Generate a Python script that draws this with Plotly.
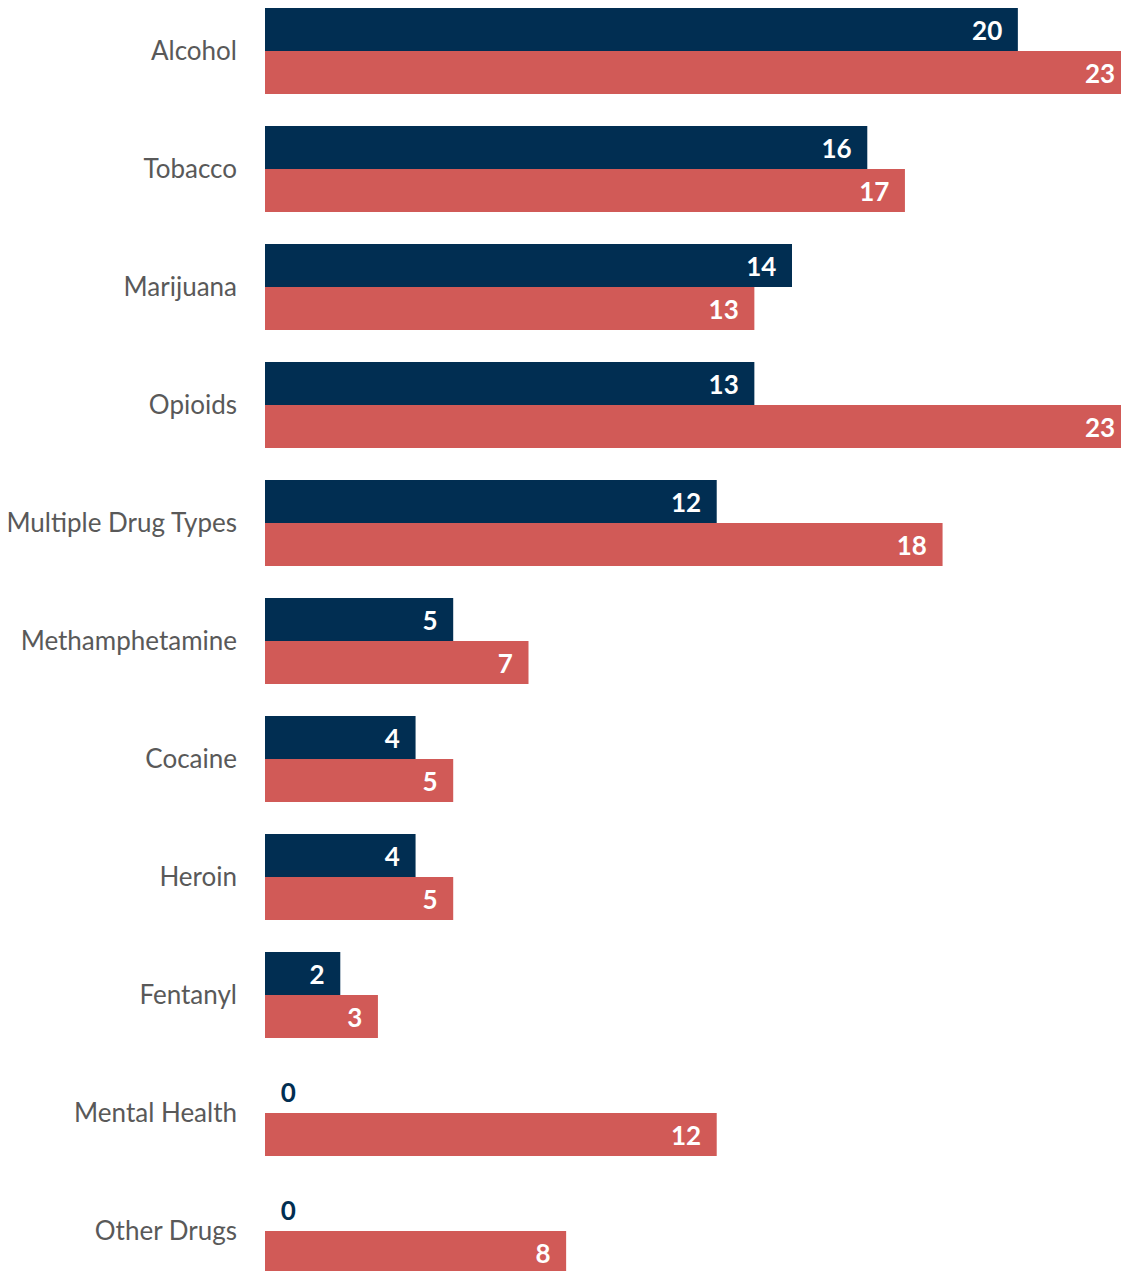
import plotly.graph_objects as go

# Substance categories, top to bottom
categories = [
    "Alcohol", "Tobacco", "Marijuana", "Opioids", "Multiple Drug Types",
    "Methamphetamine", "Cocaine", "Heroin", "Fentanyl", "Mental Health",
    "Other Drugs",
]
# Two series of counts per category
series_a = [20, 16, 14, 13, 12, 5, 4, 4, 2, 0, 0]
series_b = [23, 17, 13, 23, 18, 7, 5, 5, 3, 12, 8]

NAVY = "#012E52"
RED = "#D15A57"
NBSP = "\u00a0"


def labels(values):
    # pad labels so inside text sits a little off the bar end,
    # and zero-length bars get their label just right of the axis
    return [f"{NBSP * 2}{v}" if v == 0 else f"{v}{NBSP * 2}" for v in values]


def positions(values):
    return ["outside" if v == 0 else "inside" for v in values]


fig = go.Figure()
for vals, color in ((series_a, NAVY), (series_b, RED)):
    fig.add_trace(go.Bar(
        y=categories,
        x=vals,
        orientation="h",
        marker=dict(color=color, line=dict(width=0)),
        text=labels(vals),
        textposition=positions(vals),
        insidetextanchor="end",
        constraintext="none",
        cliponaxis=True,
        insidetextfont=dict(family="Lato", size=26, color="white", weight="bold"),
        outsidetextfont=dict(family="Lato", size=26, color=color, weight="bold"),
        hoverinfo="skip",
    ))

fig.update_layout(
    width=1121,
    height=1271,
    margin=dict(l=265, r=0, t=0, b=0),
    paper_bgcolor="white",
    plot_bgcolor="white",
    barmode="group",
    bargap=0.2712,
    bargroupgap=0,
    showlegend=False,
    xaxis=dict(
        range=[0, 22.74],
        visible=False,
        showgrid=False,
        zeroline=False,
        fixedrange=True,
    ),
    yaxis=dict(
        type="category",
        categoryorder="array",
        categoryarray=categories,
        range=[10.339, -0.4322],
        showgrid=False,
        zeroline=False,
        showline=False,
        ticks="",
        ticklabelstandoff=27,
        tickfont=dict(family="Lato", size=26, color="#595959"),
        fixedrange=True,
    ),
)

fig.write_html("out.html")
